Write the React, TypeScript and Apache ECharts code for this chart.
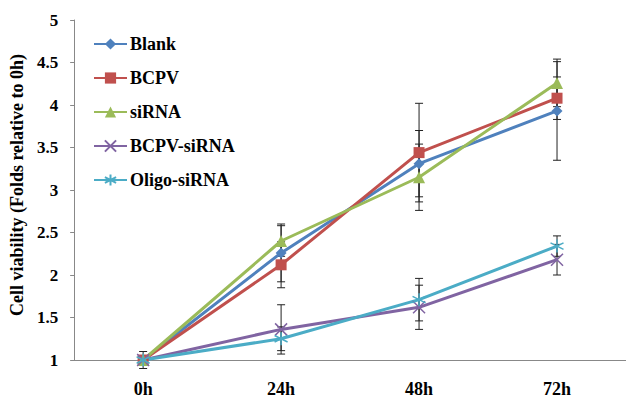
import React, { useEffect, useRef } from "react";
import * as echarts from "echarts";

const categories = ["0h", "24h", "48h", "72h"];
const seriesNames = ["Blank", "BCPV", "siRNA", "BCPV-siRNA", "Oligo-siRNA"];
const blank = [1, 2.26, 3.31, 3.93];
const bcpv = [1, 2.12, 3.44, 4.08];
const sirna = [1, 2.4, 3.15, 4.26];
const bcpvSirna = [1, 1.36, 1.62, 2.18];
const oligoSirna = [1, 1.25, 1.71, 2.34];
const blankErr = [0.1, 0.34, 0.39, 0.58];
const bcpvErr = [0.05, 0.27, 0.58, 0.25];
const sirnaErr = [0.05, 0.18, 0.39, 0.28];
const bcpvSirnaErr = [0.05, 0.29, 0.26, 0.18];
const oligoSirnaErr = [0.05, 0.14, 0.25, 0.12];

const colors = ["#4F81BD", "#C0504D", "#9BBB59", "#8064A2", "#4BACC6"];
const FONT = "'Liberation Serif', 'Times New Roman', serif";

export default function App() {
  const ref = useRef<HTMLDivElement>(null);
  useEffect(() => {
    document.body.style.margin = "0";
    document.body.style.overflow = "hidden";
    document.documentElement.style.overflow = "hidden";
    const chart = echarts.init(ref.current!, null, { renderer: "svg" });
    const values = [blank, bcpv, sirna, bcpvSirna, oligoSirna];
    const errs = [blankErr, bcpvErr, sirnaErr, bcpvSirnaErr, oligoSirnaErr];
    const symbols = [
      "diamond",
      "rect",
      "triangle",
      "path://M0,0L10,10M0,10L10,0",
      "path://M5,0L5,10M0,2.5L10,7.5M0,7.5L10,2.5",
    ];
    const sizes = [11, 11, 12, 12, 13];
    const lineSeries = values.map((v, i) => ({
      name: seriesNames[i],
      type: "line",
      data: v,
      symbol: symbols[i],
      symbolSize: sizes[i],
      z: 3,
      lineStyle: { color: colors[i], width: 3 },
      itemStyle: {
        color: colors[i],
        borderColor: colors[i],
        borderWidth: i >= 3 ? 1.5 : 0,
      },
    }));
    const errData: number[][] = [];
    values.forEach((v, i) => {
      v.forEach((val, j) => {
        errData.push([j, val - errs[i][j], val + errs[i][j]]);
      });
    });
    const errSeries = {
      type: "custom",
      z: 2,
      data: errData,
      renderItem: (params: any, api: any) => {
        const x = api.value(0);
        const lo = api.coord([x, api.value(1)]);
        const hi = api.coord([x, api.value(2)]);
        const w = 4;
        const style = { stroke: "#222", lineWidth: 1 };
        return {
          type: "group",
          children: [
            { type: "line", shape: { x1: lo[0], y1: lo[1], x2: hi[0], y2: hi[1] }, style },
            { type: "line", shape: { x1: lo[0] - w, y1: lo[1], x2: lo[0] + w, y2: lo[1] }, style },
            { type: "line", shape: { x1: hi[0] - w, y1: hi[1], x2: hi[0] + w, y2: hi[1] }, style },
          ],
        };
      },
    };
    chart.setOption({
      animation: false,
      color: colors,
      grid: { left: 69, top: 20, width: 564, height: 345.5, containLabel: false },
      legend: {
        data: seriesNames,
        orient: "vertical",
        left: 88,
        top: 30,
        itemWidth: 33,
        itemHeight: 14,
        itemGap: 16,
        textStyle: { fontFamily: FONT, fontWeight: "bold", fontSize: 18, color: "#000", padding: [0, 0, 0, -2] },
      },
      xAxis: {
        type: "category",
        data: categories,
        axisLine: { lineStyle: { color: "#888", width: 1 } },
        axisTick: { alignWithLabel: true, length: 5, lineStyle: { color: "#888" } },
        axisLabel: { fontFamily: FONT, fontWeight: "bold", fontSize: 18, color: "#000", margin: 20 },
      },
      yAxis: {
        type: "value",
        min: 1,
        max: 5,
        interval: 0.5,
        name: "Cell viability (Folds relative to 0h)",
        nameLocation: "middle",
        nameGap: 45,
        nameTextStyle: { fontFamily: FONT, fontWeight: "bold", fontSize: 18, color: "#000", padding: [0, 0, 0, 10] },
        axisLine: { show: true, lineStyle: { color: "#888", width: 1 } },
        axisTick: { show: true, length: 4, lineStyle: { color: "#888" } },
        splitLine: { show: false },
        axisLabel: { fontFamily: FONT, fontWeight: "bold", fontSize: 17, color: "#000", margin: 16 },
      },
      series: [errSeries, ...lineSeries],
    });
    return () => chart.dispose();
  }, []);
  return <div ref={ref} style={{ width: 626, height: 398 }} />;
}
